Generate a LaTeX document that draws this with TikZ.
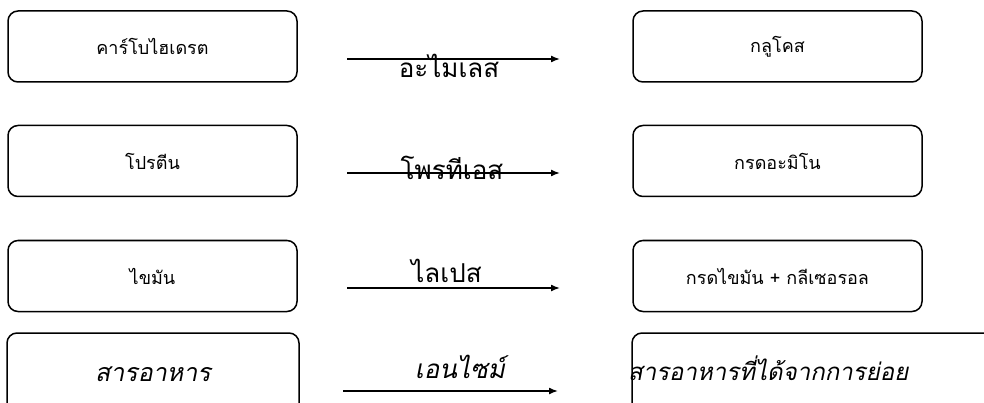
\documentclass[tikz,border=0pt]{standalone}
\usepackage{fontspec}
\newfontfamily\thai[Script=Thai]{Loma}
\newfontfamily\thaiit[Script=Thai,FakeSlant=0.2]{Loma}
\usetikzlibrary{arrows.meta}
\begin{document}
\begin{tikzpicture}[x=1pt,y=-1pt,
 box/.style={draw,line width=1.5pt,rounded corners=10pt,minimum width=289pt,minimum height=71pt,inner sep=0pt,font=\thai\fontsize{18}{20}\selectfont},
 bigbox/.style={draw,line width=1.5pt,rounded corners=10pt,inner sep=0pt,font=\thaiit\fontsize{25}{28}\selectfont},
 lab/.style={anchor=base,inner sep=0pt,font=\thai\fontsize{26}{30}\selectfont},
 labit/.style={anchor=base,inner sep=0pt,font=\thaiit\fontsize{26}{30}\selectfont},
 arr/.style={line width=1.5pt,-{Latex[length=9pt,width=7pt]}}]
\useasboundingbox (0,0) rectangle (984,403);
\clip (0,0) rectangle (984,403);
% row 1
\node[box] (l1) at (152.5,46.5) {คาร์โบไฮเดรต};
\node[box] (r1) at (777.5,46.5) {กลูโคส};
\coordinate (a1s) at (347,59);
\coordinate (a1e) at (560,59);
\draw[arr] (a1s) -- (a1e);
\node[lab] (t1) at (449,78) {อะไมเลส};
% row 2
\node[box] (l2) at (152.5,161) {โปรตีน};
\node[box] (r2) at (777.5,161) {กรดอะมิโน};
\coordinate (a2s) at (347,173);
\coordinate (a2e) at (560,173);
\draw[arr] (a2s) -- (a2e);
\node[lab] (t2) at (452,180) {โพรทีเอส};
% row 3
\node[box] (l3) at (152.5,276) {ไขมัน};
\node[box] (r3) at (777.5,276) {กรดไขมัน + กลีเซอรอล};
\coordinate (a3s) at (347,288);
\coordinate (a3e) at (560,288);
\draw[arr] (a3s) -- (a3e);
\node[lab] (t3) at (446.5,282) {ไลเปส};
% row 4
\node[bigbox,minimum width=292pt,minimum height=82pt] (l4) at (153,374) {สารอาหาร};
\node[bigbox,minimum width=368pt,minimum height=82pt] (r4) at (816,374) {};
\node[anchor=base west,inner sep=0pt,font=\thaiit\fontsize{24}{28}\selectfont] (t4r) at (628,380) {สารอาหารที่ได้จากการย่อย};
\coordinate (a4s) at (343,391);
\coordinate (a4e) at (558,391);
\draw[arr] (a4s) -- (a4e);
\node[labit] (t4) at (460,378) {เอนไซม์};
\end{tikzpicture}
\end{document}
